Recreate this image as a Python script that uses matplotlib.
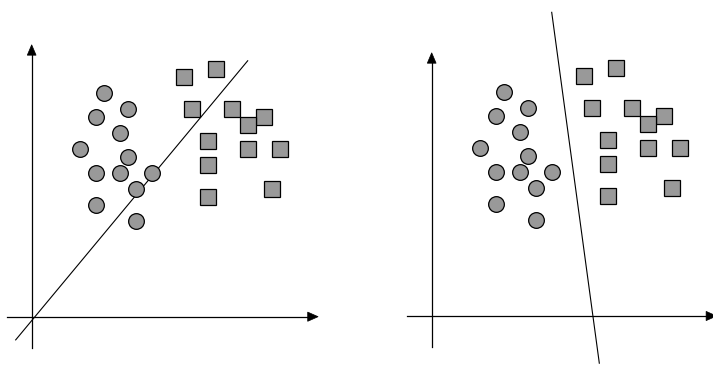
import matplotlib
matplotlib.use("Agg")
import matplotlib.pyplot as plt

# point positions in grid units (axis origin = 0,0)
circle_x = [9, 12, 8, 11, 6, 12, 8, 11, 15, 13, 8, 13]
circle_y = [28, 26, 25, 23, 21, 20, 18, 18, 18, 16, 14, 12]
square_x = [19, 23, 20, 25, 29, 27, 22, 27, 31, 22, 30, 22]
square_y = [30, 31, 26, 26, 25, 24, 22, 21, 21, 19, 16, 15]

# separating lines (two end points each)
left_line_x = [-2, 27]
left_line_y = [-2.9, 32]
right_line_x = [15, 20.95]
right_line_y = [37.96, -5.9]

fig = plt.figure(figsize=(7.13, 3.65), dpi=100)

panels = [
    # axes rect, xlim, ylim, separating line, y-arrow top, x-arrow right
    ([0, 0, 356.5 / 713, 1], (-3.96, 40.6), (-6.04, 39.6), (left_line_x, left_line_y), 34.0, 35.8),
    ([356.5 / 713, 0, 356.5 / 713, 1], (-9.4, 35.16), (-6.125, 39.5), (right_line_x, right_line_y), 32.9, 35.6),
]

for rect, xlim, ylim, (lx, ly), ytop, xright in panels:
    ax = fig.add_axes(rect)
    ax.set_xlim(*xlim)
    ax.set_ylim(*ylim)
    ax.axis("off")

    # axes with arrow heads
    ax.plot([-3.1, xright - 1.2], [0, 0], color="black", lw=0.9)
    ax.plot([0, 0], [-3.9, ytop - 1.2], color="black", lw=0.9)
    ax.arrow(xright - 1.3, 0, 1.3, 0, head_width=1.15, head_length=1.3,
             length_includes_head=True, fc="black", ec="black", lw=0.5, clip_on=False)
    ax.arrow(0, ytop - 1.3, 0, 1.3, head_width=1.1, head_length=1.3,
             length_includes_head=True, fc="black", ec="black", lw=0.5)

    ax.plot(lx, ly, color="black", lw=0.8)

    ax.plot(circle_x, circle_y, "o", ms=11.3, mfc="#999999", mec="black", mew=0.9, ls="none")
    ax.plot(square_x, square_y, "s", ms=11.3, mfc="#999999", mec="black", mew=0.9, ls="none")

fig.savefig("out.png", dpi=100)
